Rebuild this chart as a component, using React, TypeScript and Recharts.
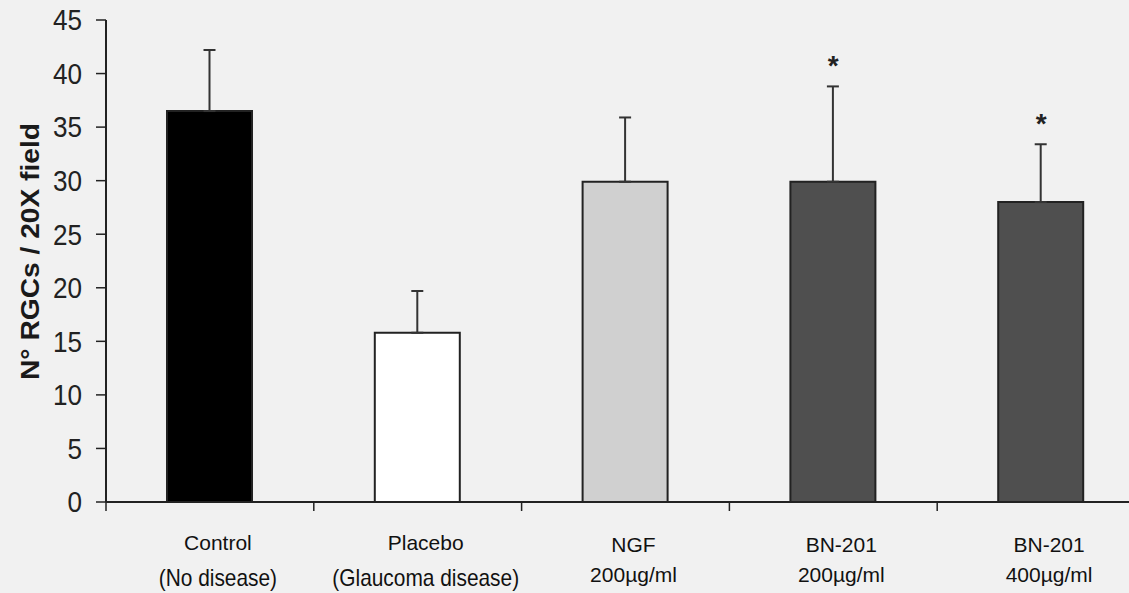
import React from "react";
import { ComposedChart, Bar, XAxis, YAxis, ErrorBar, Cell, Line } from "recharts";

// ---- data ----
const groupNames = ["Control", "Placebo", "NGF", "BN-201", "BN-201"];
const groupSubtitles = ["(No disease)", "(Glaucoma disease)", "200µg/ml", "200µg/ml", "400µg/ml"];
const meanRGCs = [36.5, 15.8, 29.9, 29.9, 28.0];
const sdRGCs = [5.7, 3.9, 6.0, 8.9, 5.4];
const significance = ["", "", "", "*", "*"];
const yTicks = [0, 5, 10, 15, 20, 25, 30, 35, 40, 45];

// ---- styles ----
const barFills = ["#000000", "#ffffff", "#d0d0d0", "#4f4f4f", "#4f4f4f"];
const INK = "#222222";
const FONT = "'Liberation Sans', Arial, Helvetica, sans-serif";

const data = groupNames.map((name, i) => ({
  key: `${name} ${groupSubtitles[i]}`,
  mean: meanRGCs[i],
  err: [0, sdRGCs[i]],
  top: meanRGCs[i] + sdRGCs[i],
}));

const XTick = (props: any) => {
  const { x, y, index, payload, width, visibleTicksCount } = props;
  const half =
    payload && typeof payload.offset === "number" && payload.offset > 0
      ? payload.offset
      : width / visibleTicksCount / 2;
  const cx = x + 8;
  const paren = index < 2;
  const left = x - half;
  return (
    <g>
      <line x1={left} y1={y} x2={left} y2={y + 9} stroke={INK} strokeWidth={1.5} />
      <text x={cx} y={y + (paren ? 47.5 : 50)} textAnchor="middle" fontSize={21} fill="#111" fontFamily={FONT}>
        {groupNames[index]}
      </text>
      {paren ? (
        <text
          transform={`translate(${cx},${y + 84}) scale(0.87,1)`}
          textAnchor="middle"
          fontSize={24}
          fill="#111"
          fontFamily={FONT}
        >
          {groupSubtitles[index]}
        </text>
      ) : (
        <text x={cx} y={y + 79.5} textAnchor="middle" fontSize={21} fill="#111" fontFamily={FONT}>
          {groupSubtitles[index]}
        </text>
      )}
    </g>
  );
};

const YTick = (props: any) => {
  const { x, y, payload } = props;
  return (
    <text
      transform={`translate(${x - 12},${y}) scale(0.9,1)`}
      dy="0.355em"
      textAnchor="end"
      fontSize={29}
      fill="#222"
      fontFamily={FONT}
    >
      {payload.value}
    </text>
  );
};

const YLabel = (props: any) => {
  const vb = props.viewBox || { x: 0, y: 20, width: 106, height: 482 };
  const cx = vb.x + 30;
  const cy = vb.y + vb.height / 2 - 9.5;
  return (
    <text
      x={cx}
      y={cy}
      transform={`rotate(-90, ${cx}, ${cy})`}
      textAnchor="middle"
      dominantBaseline="central"
      fontSize={25}
      fontWeight="bold"
      fill="#1a1a1a"
      fontFamily={FONT}
      textLength={257}
      lengthAdjust="spacingAndGlyphs"
    >
      N° RGCs / 20X field
    </text>
  );
};

const StarLabel = (props: any) => {
  const { x, y, index } = props;
  if (!significance[index]) return null;
  return (
    <text x={x} y={y - 11} textAnchor="middle" fontSize={28} fontWeight="bold" fill="#222" fontFamily={FONT}>
      {significance[index]}
    </text>
  );
};

export default function App() {
  return (
    <div
      style={{
        position: "absolute",
        left: 0,
        top: 0,
        width: 1129,
        height: 593,
        overflow: "hidden",
        background: "#f1f1f1",
      }}
    >
      <ComposedChart width={1160} height={593} data={data} margin={{ top: 20, right: 15, bottom: 0, left: 0 }}>
        <XAxis
          xAxisId="cat"
          dataKey="key"
          height={91}
          stroke={INK}
          axisLine={{ stroke: INK, strokeWidth: 2 }}
          tickLine={false}
          tickSize={0}
          tickMargin={0}
          interval={0}
          tick={<XTick />}
        />
        <YAxis
          domain={[0, 45]}
          ticks={yTicks}
          width={106}
          tickSize={10}
          interval={0}
          stroke={INK}
          axisLine={{ stroke: INK, strokeWidth: 2 }}
          tickLine={{ stroke: INK, strokeWidth: 1.5 }}
          tick={<YTick />}
          label={{ content: <YLabel /> }}
        />
        <Bar xAxisId="cat" dataKey="mean" barSize={85} stroke="#222" strokeWidth={2} isAnimationActive={false}>
          {data.map((d, i) => (
            <Cell key={d.key} fill={barFills[i]} />
          ))}
          <ErrorBar dataKey="err" width={6} stroke="#333" strokeWidth={2} direction="y" />
        </Bar>
        <Line
          xAxisId="cat"
          dataKey="top"
          stroke="none"
          dot={false}
          activeDot={false}
          legendType="none"
          isAnimationActive={false}
          label={<StarLabel />}
        />
      </ComposedChart>
    </div>
  );
}
